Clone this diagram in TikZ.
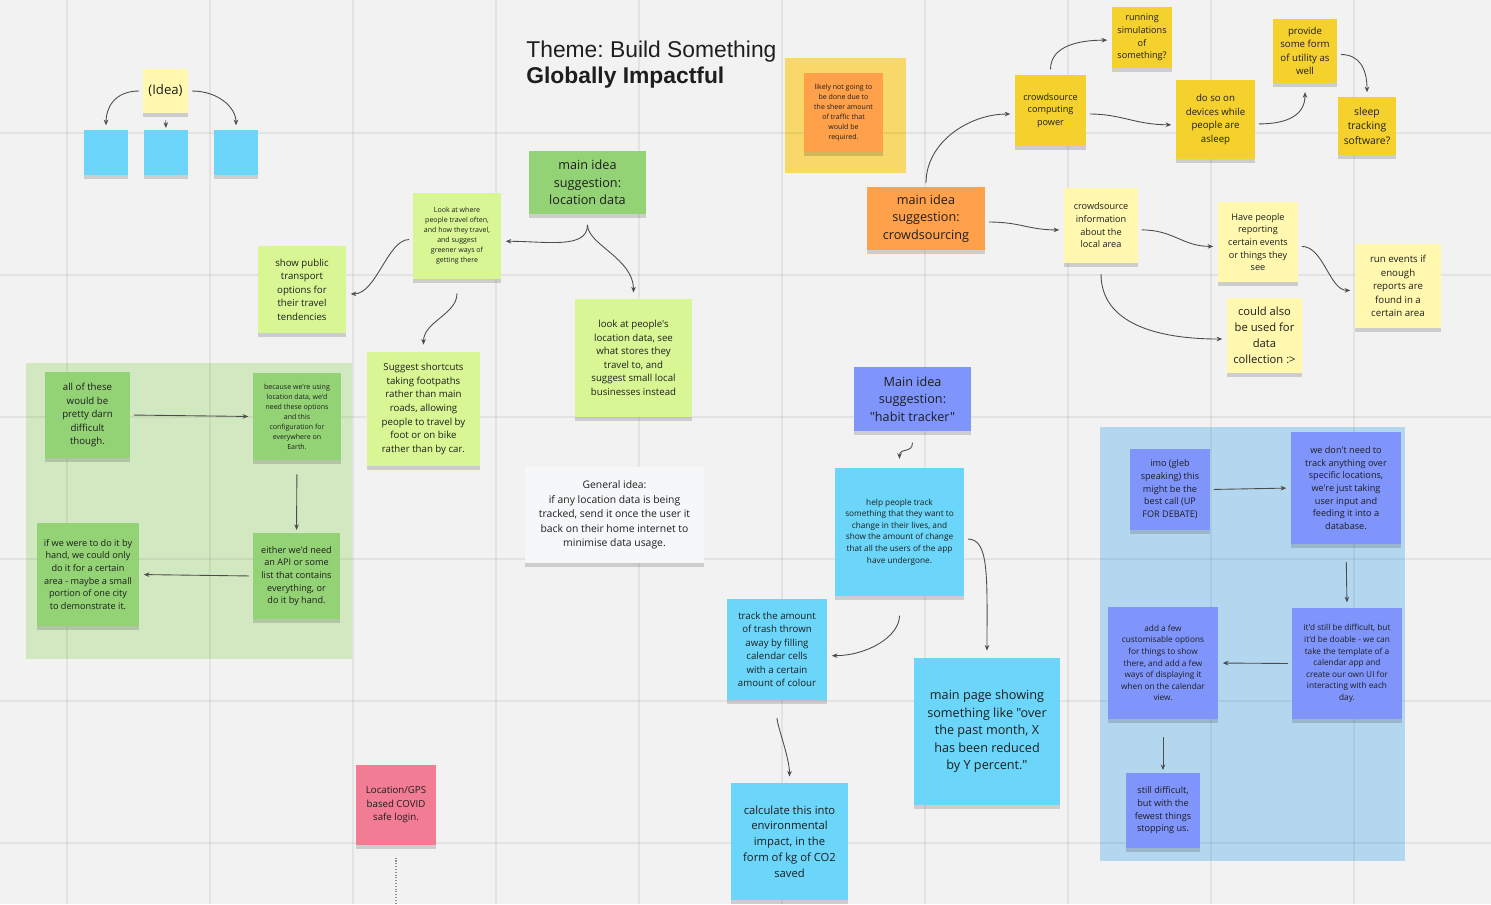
\documentclass[tikz,border=0pt]{standalone}
\usepackage{fontspec}
\setmainfont{Open Sans}[Ligatures=TeXOff]
\newfontfamily\titlefont{Liberation Sans}
\usetikzlibrary{arrows.meta,shadows}
\frenchspacing

\definecolor{boardbg}{HTML}{F2F2F2}
\definecolor{inkc}{HTML}{1E1E1E}
\definecolor{yellowlt}{HTML}{FFF8AE}
\definecolor{skyc}{HTML}{6BD6F9}
\definecolor{grnc}{HTML}{93D275}
\definecolor{limec}{HTML}{D8F694}
\definecolor{orgc}{HTML}{FFA04A}
\definecolor{ylwc}{HTML}{F5D12E}
\definecolor{vioc}{HTML}{7F95FB}
\definecolor{pinkc}{HTML}{F27C93}
\definecolor{whitec}{HTML}{F6F7F9}
\definecolor{frameylw}{HTML}{F7D869}
\definecolor{framegrn}{HTML}{D2E8C1}
\definecolor{frameblu}{HTML}{B4D7F0}

\begin{document}
\begin{tikzpicture}[x=0.02cm, y=-0.02cm,
    every node/.style={text=inkc},
    note/.style={rectangle, inner sep=0pt, align=center,
        drop shadow={shadow xshift=0pt, shadow yshift=-2pt, opacity=0.15, fill=black}},
    sz/.style 2 args={minimum width=#1*0.02cm, minimum height=#2*0.02cm},
    txa/.style={font=\fontsize{4}{5.7}\selectfont},
    txb/.style={font=\fontsize{4.7}{6.6}\selectfont},
    txc/.style={font=\fontsize{5.2}{7.2}\selectfont},
    txd/.style={font=\fontsize{5.5}{7.7}\selectfont},
    txe/.style={font=\fontsize{5.9}{8.3}\selectfont},
    txf/.style={font=\fontsize{6.4}{9}\selectfont},
    txg/.style={font=\fontsize{7.2}{10}\selectfont},
    arr/.style={draw=black!70, line width=0.5pt, shorten <=2pt, shorten >=2.5pt,
        -{Stealth[length=3.2pt,width=2.6pt]}}]

    % Board
    \fill[boardbg] (0,0) rectangle (1491,904);
    \useasboundingbox (0,0) rectangle (1491,904);

    % Frames
    \fill[frameylw] (785,58) rectangle (906,173);
    \fill[framegrn] (26,363) rectangle (352,659);
    \fill[frameblu] (1100,427) rectangle (1405,861);

    % Grid
    \foreach \x in {67,210,353,496,639,782,925,1068,1211,1354}
        \draw[black, opacity=0.06, line width=0.6pt] (\x,0) -- (\x,904);
    \foreach \y in {133,275,417,559,701,843}
        \draw[black, opacity=0.06, line width=0.6pt] (0,\y) -- (1491,\y);

    % Title
    \node[anchor=base west, inner sep=0pt, font=\titlefont\fontsize{13}{15}\selectfont] (title1) at (526,57) {Theme: Build Something};
    \node[anchor=base west, inner sep=0pt, font=\titlefont\bfseries\fontsize{13}{15}\selectfont] (title2) at (526,83) {Globally Impactful};

    % Idea template
    \node[note, fill=yellowlt, sz={45}{44}, font=\fontsize{7.5}{9}\selectfont] (idea) at (165.5,91) {(Idea)};
    \node[note, fill=skyc, sz={44}{45}] (b1) at (106,152.5) {};
    \node[note, fill=skyc, sz={44}{45}] (b2) at (166,152.5) {};
    \node[note, fill=skyc, sz={44}{45}] (b3) at (236,152.5) {};

    % Location data
    \node[note, fill=grnc, sz={117}{63}, txg] (loc) at (587.5,182.5) {main idea\\suggestion:\\location data};
    \node[note, fill=limec, sz={88}{86}, txa] (lookwhere) at (457,236) {Look at where\\people travel often,\\and how they travel,\\and suggest\\greener ways of\\getting there};
    \node[note, fill=limec, sz={88}{87}, txd] (showpub) at (302,289.5) {show public\\transport\\options for\\their travel\\tendencies};
    \node[note, fill=limec, sz={113}{114}, txd] (suggest) at (423.5,409) {Suggest shortcuts\\taking footpaths\\rather than main\\roads, allowing\\people to travel by\\foot or on bike\\rather than by car.};
    \node[note, fill=limec, sz={117}{118}, txd] (lookpeople) at (633.5,358) {look at people's\\location data, see\\what stores they\\travel to, and\\suggest small local\\businesses instead};

    % Difficulty frame
    \node[note, fill=grnc, sz={85}{86}, txd] (allthese) at (87.5,415) {all of these\\would be\\pretty darn\\difficult\\though.};
    \node[note, fill=grnc, sz={88}{87}, txa] (because) at (297,416.5) {because we're using\\location data, we'd\\need these options\\and this\\configuration for\\everywhere on\\Earth.};
    \node[note, fill=grnc, sz={87}{86}, txc] (either) at (296.5,576) {either we'd need\\an API or some\\list that contains\\everything, or\\do it by hand.};
    \node[note, fill=grnc, sz={102}{103}, txc] (ifwe) at (88,574.5) {if we were to do it by\\hand, we could only\\do it for a certain\\area - maybe a small\\portion of one city\\to demonstrate it.};

    % General idea
    \node[note, fill=whitec, sz={179}{96}, txe] (general) at (614.5,515) {General idea:\\if any location data is being\\tracked, send it once the user it\\back on their home internet to\\minimise data usage.};

    % Crowdsourcing
    \node[note, fill=orgc, sz={79}{79}, txa] (likely) at (843.5,112.5) {likely not going to\\be done due to\\the sheer amount\\of traffic that\\would be\\required.};
    \node[note, fill=orgc, sz={118}{63}, txg] (crowd) at (926,218.5) {main idea\\suggestion:\\crowdsourcing};
    \node[note, fill=ylwc, sz={60}{61}, txc] (rsim) at (1142,37.5) {running\\simulations\\of\\something?};
    \node[note, fill=ylwc, sz={71}{71}, txc] (ccp) at (1050.5,110.5) {crowdsource\\computing\\power};
    \node[note, fill=ylwc, sz={79}{79}, txd] (doso) at (1215.5,119.5) {do so on\\devices while\\people are\\asleep};
    \node[note, fill=ylwc, sz={64}{64}, txd] (provide) at (1305,51) {provide\\some form\\of utility as\\well};
    \node[note, fill=ylwc, sz={58}{58}, txe] (sleep) at (1367,126) {sleep\\tracking\\software?};
    \node[note, fill=yellowlt, sz={74}{75}, txc] (cinfo) at (1101,225.5) {crowdsource\\information\\about the\\local area};
    \node[note, fill=yellowlt, sz={80}{80}, txc] (havep) at (1258,242) {Have people\\reporting\\certain events\\or things they\\see};
    \node[note, fill=yellowlt, sz={86}{84}, txd] (runev) at (1398,286) {run events if\\enough\\reports are\\found in a\\certain area};
    \node[note, fill=yellowlt, sz={75}{75}, txf] (could) at (1264.5,335.5) {could also\\be used for\\data\\collection :>};

    % Habit tracker
    \node[note, fill=vioc, sz={117}{64}, txg] (habit) at (912.5,399) {Main idea\\suggestion:\\"habit tracker"};
    \node[note, fill=skyc, sz={129}{128}, txb] (help) at (899.5,532) {help people track\\something that they want to\\change in their lives, and\\show the amount of change\\that all the users of the app\\have undergone.};
    \node[note, fill=skyc, sz={100}{101}, txd] (track) at (777,649.5) {track the amount\\of trash thrown\\away by filling\\calendar cells\\with a certain\\amount of colour};
    \node[note, fill=skyc, sz={146}{147}, txg] (mainpage) at (987,731.5) {main page showing\\something like "over\\the past month, X\\has been reduced\\by Y percent."};
    \node[note, fill=skyc, sz={117}{117}, txf] (calc) at (789.5,841.5) {calculate this into\\environmental\\impact, in the\\form of kg of CO2\\saved};

    % Habit tracker frame
    \node[note, fill=vioc, sz={80}{81}, txc] (imo) at (1170,489.5) {imo (gleb\\speaking) this\\might be the\\best call (UP\\FOR DEBATE)};
    \node[note, fill=vioc, sz={110}{112}, txc] (dont) at (1346,488) {we don't need to\\track anything over\\specific locations,\\we're just taking\\user input and\\feeding it into a\\database.};
    \node[note, fill=vioc, sz={110}{111}, txb] (itd) at (1347,663.5) {it'd still be difficult, but\\it'd be doable - we can\\take the template of a\\calendar app and\\create our own UI for\\interacting with each\\day.};
    \node[note, fill=vioc, sz={110}{112}, txb] (add) at (1163,663) {add a few\\customisable options\\for things to show\\there, and add a few\\ways of displaying it\\when on the calendar\\view.};
    \node[note, fill=vioc, sz={74}{75}, txc] (still) at (1163,810.5) {still difficult,\\but with the\\fewest things\\stopping us.};

    % COVID login
    \node[note, fill=pinkc, sz={80}{80}, txd] (pink) at (396,805) {Location/GPS\\based COVID\\safe login.};
    \coordinate (pinkend) at (396,904);

    % Connectors: idea template
    \draw[arr] (idea.west) .. controls +(-28,0) and +(0,-22) .. (b1.north);
    \draw[arr, shorten <=4pt, shorten >=1pt] (idea.south) -- (b2.north);
    \draw[arr] (idea.east) .. controls +(30,0) and +(0,-22) .. (b3.north);

    % Connectors: location data
    \draw[arr, shorten <=6pt] (loc.south) .. controls +(0,35) and +(45,0) .. ([yshift=-3pt]lookwhere.east);
    \draw[arr, shorten <=6pt, shorten >=3.5pt] (loc.south) .. controls +(0,30) and +(0,-40) .. (lookpeople.north);
    \draw[arr] ([yshift=-2pt]lookwhere.west) .. controls +(-25,0) and +(30,0) .. ([yshift=-2.5pt]showpub.east);
    \draw[arr, shorten <=8pt, shorten >=4pt] (lookwhere.south) .. controls +(0,35) and +(0,-30) .. (suggest.north);

    % Connectors: difficulty frame
    \draw[arr] (allthese.east) -- (because.west);
    \draw[arr, shorten <=8pt, shorten >=1.5pt] (because.south) -- (either.north);
    \draw[arr] (either.west) -- (ifwe.east);

    % Connectors: crowdsourcing
    \draw[arr] (crowd.north) .. controls +(0,-45) and +(-45,0) .. ([yshift=-2pt]ccp.west);
    \draw[arr, shorten <=3pt] (ccp.north) .. controls +(0,-30) and +(-30,0) .. ([yshift=-1.5pt]rsim.west);
    \draw[arr] ([yshift=-2pt]ccp.east) .. controls +(35,0) and +(-40,0) .. ([yshift=-3pt]doso.west);
    \draw[arr, shorten >=5pt] ([yshift=-2.5pt]doso.east) .. controls +(35,0) and +(0,30) .. (provide.south);
    \draw[arr] ([yshift=-2pt]provide.east) .. controls +(22,0) and +(0,-28) .. (sleep.north);
    \draw[arr] ([yshift=-2pt]crowd.east) .. controls +(35,0) and +(-35,0) .. ([yshift=-2.5pt]cinfo.west);
    \draw[arr] ([yshift=-2.5pt]cinfo.east) .. controls +(35,0) and +(-35,0) .. ([yshift=-2.5pt]havep.west);
    \draw[arr] ([yshift=-2.5pt]havep.east) .. controls +(25,0) and +(-25,0) .. ([yshift=-2.5pt]runev.west);
    \draw[arr, shorten <=6pt] (cinfo.south) .. controls +(0,60) and +(-70,0) .. ([yshift=-2pt]could.west);

    % Connectors: habit tracker
    \draw[arr, shorten <=6.5pt, shorten >=5pt] (habit.south) .. controls +(0,22) and +(0,-20) .. (help.north);
    \draw[arr, shorten <=11pt] (help.south) .. controls +(0,40) and +(40,0) .. ([yshift=-3.5pt]track.east);
    \draw[arr, shorten >=4pt] ([yshift=-4pt]help.east) .. controls +(25,0) and +(0,-80) .. (mainpage.north);
    \draw[arr, shorten <=10pt, shorten >=3.5pt] (track.south) .. controls +(0,25) and +(0,-25) .. (calc.north);
    \draw[arr] (imo.east) -- (dont.west);
    \draw[arr, shorten <=10pt, shorten >=3pt] (dont.south) -- (itd.north);
    \draw[arr] (itd.west) -- (add.east);
    \draw[arr, shorten <=10pt, shorten >=1.5pt] (add.south) -- (still.north);

    % COVID login line
    \draw[black!45, densely dotted, line width=0.6pt, shorten <=7pt] (pink.south) -- (pinkend);
\end{tikzpicture}
\end{document}
